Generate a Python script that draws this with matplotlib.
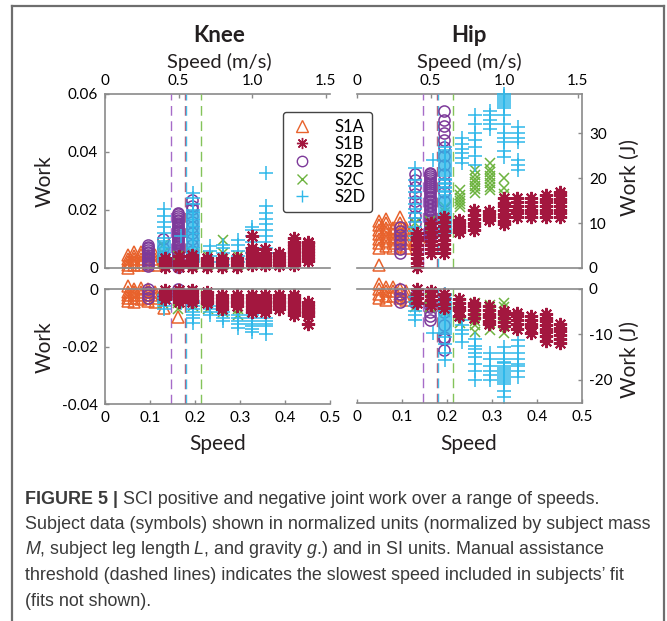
import matplotlib
matplotlib.use("Agg")
import matplotlib.pyplot as plt
from matplotlib.lines import Line2D
from matplotlib.text import Annotation

plt.rcParams["font.family"] = ["Lato", "DejaVu Sans"]
plt.rcParams["mathtext.fontset"] = "custom"
plt.rcParams["mathtext.rm"] = "Liberation Sans"
plt.rcParams["mathtext.it"] = "Liberation Sans:italic"

W, H = 667, 621
SPEED_SCALE = 3.06          # normalized speed -> m/s

# ── Data (normalized speed, per-speed trial values) ──────────────────────
S1A_SPEED = [0.05, 0.065, 0.08, 0.095, 0.11, 0.13, 0.162]
S1A_KNEE_POS = [[0.0, 0.001, 0.002, 0.003, 0.0045], [0.001, 0.002, 0.003, 0.004, 0.0055],
                [0.001, 0.002, 0.003, 0.0045, 0.0055], [0.001, 0.002, 0.003, 0.004],
                [0.001, 0.002, 0.003, 0.0045], [0.002], [0.002]]
S1A_KNEE_NEG = [[0.001, -0.001, -0.002, -0.003, -0.004], [0.0, -0.001, -0.002, -0.003, -0.0045],
                [0.0005, -0.001, -0.002, -0.0035], [0.0, -0.001, -0.002, -0.003, -0.004],
                [-0.001, -0.002, -0.003, -0.0045], [-0.0066], [-0.0097]]
S1A_HIP_POS = [[0.7, 4.5, 5.5, 6.5, 7.5, 8.5, 9.5, 10.5], [5, 6, 7, 8, 9, 10, 11],
               [4.5, 5.5, 6.5, 7.5, 8.5, 9], [5, 6, 7, 8, 9, 10, 11.3],
               [4.5, 5.5, 6.5, 7.5, 8.5, 9], [6], [7]]
S1A_HIP_NEG = [[1.0, 0, -1, -2], [0.5, -0.5, -1.5, -2.4], [0.5, -0.5, -1.5],
               [0, -1, -2], [-0.5, -1.5, -2.5], [-1.5], [-2]]

S1B_SPEED = [0.133, 0.164, 0.193, 0.227, 0.26, 0.293, 0.327, 0.355, 0.387, 0.419, 0.451]
S1B_KNEE_POS = [[0.0005, 0.0015, 0.0025, 0.0035], [0.0005, 0.0015, 0.0025, 0.004],
                [0.0005, 0.0015, 0.0025, 0.0035, 0.0045], [0.0005, 0.0015, 0.0025, 0.0035],
                [0.0005, 0.0015, 0.0025, 0.0035], [0.0005, 0.0015, 0.0025, 0.0035],
                [0.001, 0.002, 0.003, 0.004, 0.005, 0.006, 0.007, 0.011],
                [0.001, 0.002, 0.003, 0.004, 0.005, 0.0065],
                [0.001, 0.002, 0.003, 0.004, 0.005],
                [0.001, 0.002, 0.003, 0.004, 0.005, 0.006, 0.007, 0.008, 0.009, 0.0105],
                [0.0025, 0.0035, 0.0045, 0.0055, 0.0065, 0.0075, 0.0085, 0.009]]
S1B_KNEE_NEG = [[-0.0005, -0.0015, -0.0025, -0.0035], [-0.0005, -0.0015, -0.0025, -0.0035, -0.0045],
                [-0.0005, -0.0015, -0.0025, -0.0035, -0.0045], [-0.001, -0.002, -0.003, -0.004, -0.005],
                [-0.002, -0.003, -0.004, -0.005, -0.006, -0.007], [-0.002, -0.003, -0.004, -0.005, -0.006],
                [-0.002, -0.003, -0.004, -0.005, -0.006, -0.007, -0.008],
                [-0.002, -0.003, -0.004, -0.005, -0.006, -0.007, -0.008],
                [-0.002, -0.003, -0.004, -0.005, -0.006, -0.007],
                [-0.002, -0.003, -0.004, -0.005, -0.006, -0.007, -0.008, -0.009],
                [-0.0045, -0.0055, -0.0065, -0.0075, -0.0085, -0.0095, -0.012]]
S1B_HIP_POS = [[0.2, 1.2, 2.2, 3.2, 4.2, 5.2, 6.2, 7.0, 7.8], [3.4, 4.3, 5.2, 6.1, 7.0, 7.9, 8.8, 10],
               [3.3, 4.3, 5.3, 6.3, 7.3, 8.3, 9.3, 10.3, 11.4], [7.9, 8.6, 9.3, 10, 10.6],
               [8.5, 9.3, 10.1, 10.9, 11.7, 12.9], [10.6, 11.3, 12, 12.6],
               [9.7, 10.5, 11.3, 12.1, 12.9, 13.7, 14.5, 15.6], [11.4, 12.2, 13, 13.8, 14.6, 15.6],
               [11.4, 12.2, 13, 13.8, 14.6, 15.6], [11.4, 12.2, 13, 13.8, 14.6, 15.4, 16.3],
               [11.4, 12.2, 13, 13.8, 14.6, 15.4, 16.2, 17]]
S1B_HIP_NEG = [[0, -1, -2, -3], [-0.5, -1.5, -2.5, -3.6], [-1.2, -2.2, -3.2, -4.2],
               [-2.3, -3.1, -3.9, -4.7, -5.9], [-3, -3.8, -4.6, -5.4, -6.4],
               [-3.8, -4.6, -5.4, -6.2, -7, -7.7], [-4.8, -5.6, -6.4, -7.2, -8.2],
               [-5.2, -6, -6.8, -7.6, -8.9], [-6, -6.8, -7.6, -8.4, -9.6],
               [-5.5, -6.3, -7.1, -7.9, -8.7, -9.5, -10.3, -11.4], [-7.7, -8.5, -9.3, -10.1, -10.9, -11.8]]

S2B_SPEED = [0.096, 0.129, 0.162, 0.194]
S2B_KNEE_POS = [[0.0008, 0.0014, 0.002, 0.0026, 0.0032, 0.0038, 0.0044, 0.005, 0.0056, 0.0062,
                 0.0068, 0.0074, 0.0078],
                [0.004, 0.007, 0.01],
                [0.0005, 0.0011, 0.0017, 0.0023, 0.0029, 0.0035, 0.0041, 0.0047, 0.0053, 0.0059,
                 0.0065, 0.0071, 0.0077, 0.0083, 0.0089, 0.0095, 0.0101, 0.0107, 0.0113, 0.0119,
                 0.0125, 0.0131, 0.0137, 0.0143, 0.0149, 0.0155, 0.0161, 0.0167, 0.0173, 0.0179,
                 0.0185, 0.019],
                [0.002, 0.004, 0.006, 0.008, 0.010, 0.012, 0.014, 0.016, 0.018, 0.0205, 0.0215, 0.0235]]
S2B_KNEE_NEG = [[0.0, -0.001, -0.002, -0.003], [-0.002, -0.003],
                [0.0, -0.001, -0.002, -0.003], [-0.001, -0.002, -0.003, -0.004]]
S2B_HIP_POS = [[3.3, 4.3, 5.3, 6.3, 7.3, 8.3, 9.2], [10, 11.5, 13.5, 15, 16.5, 18, 19.5, 21],
               [6.5, 6.9, 7.4, 7.8, 8.3, 8.7, 9.2, 9.6, 10.1, 10.5, 11, 11.4, 11.9, 12.3, 12.8,
                13.2, 13.7, 14.1, 14.6, 15, 15.5, 15.9, 16.4, 16.8, 17.3, 17.7, 18.2, 18.6, 19.1,
                19.5, 20, 20.4, 20.9, 21.2],
               [15, 17, 19, 21, 23, 25, 27, 28.5, 30, 31.5, 33, 35]]
S2B_HIP_NEG = [[0, -1, -2, -2.9], [-1.5, -3], [-3, -4, -5, -6, -6.8],
               [-2, -5, -8, -10.5, -11, -13.4]]

S2C_SPEED = [0.128, 0.162, 0.196, 0.229, 0.262, 0.296, 0.327]
S2C_KNEE_POS = [[0.002, 0.005, 0.008], [0.002, 0.004], [0.001, 0.003, 0.005], [0.001, 0.002, 0.004],
                [0.001, 0.003, 0.005, 0.0098], [0.001, 0.002, 0.004], [0.001, 0.003, 0.005]]
S2C_KNEE_NEG = [[-0.003, -0.005], [-0.004, -0.005, -0.007], [-0.004, -0.006], [-0.005, -0.007],
                [-0.005, -0.007, -0.008], [-0.005, -0.007, -0.009], [-0.004, -0.006, -0.008]]
S2C_HIP_POS = [[8, 10], [9, 10.5], [9.6, 10.5, 11.5, 12.5, 13.5],
               [13.5, 14.2, 14.9, 15.6, 16.3, 17.3], [16.7, 17.5, 18.3, 19.1, 19.9, 20.7, 21.8],
               [17.3, 18.1, 18.9, 19.7, 20.5, 21.3, 22.1, 23.3], [16.5, 17.8, 20]]
S2C_HIP_NEG = [[-2, -4], [-2, -4], [-3, -5], [-3, -4, -5, -6, -7.5],
               [-3, -4, -5, -6, -7, -8, -9.4], [-3.5, -4.5, -5.5, -6.5, -7.5, -9],
               [-3, -4, -5, -6, -7.5, -9.7]]

S2D_SPEED = [0.13, 0.169, 0.196, 0.233, 0.262, 0.296, 0.327, 0.358]
S2D_KNEE_POS = [[0.002, 0.0026, 0.0032, 0.0038, 0.0044, 0.005, 0.0056, 0.0062, 0.0068, 0.0074,
                 0.008, 0.0086, 0.0092, 0.0105, 0.012, 0.014, 0.016, 0.018, 0.0205],
                [0.011],
                [0.002, 0.0026, 0.0032, 0.0038, 0.0044, 0.005, 0.0056, 0.0062, 0.0068, 0.0074,
                 0.008, 0.0086, 0.0092, 0.0098, 0.0104, 0.011, 0.0116, 0.0122, 0.0128, 0.0134,
                 0.014, 0.0146, 0.0152, 0.0158, 0.0164, 0.017, 0.0176, 0.0182, 0.0188, 0.0194,
                 0.02, 0.022, 0.024, 0.026],
                [0.002, 0.004, 0.006, 0.0075], [0.001, 0.003, 0.005, 0.007, 0.008],
                [0.002, 0.004, 0.006, 0.008, 0.0097], [0.003, 0.005, 0.007, 0.009, 0.011, 0.013, 0.014],
                [0.005, 0.007, 0.009, 0.011, 0.013, 0.015, 0.017, 0.019, 0.0215, 0.0328]]
S2D_KNEE_NEG = [[-0.002, -0.003, -0.004, -0.005, -0.006, -0.007], [-0.005],
                [-0.004, -0.005, -0.006, -0.007, -0.008, -0.009, -0.010, -0.0118],
                [-0.006, -0.007, -0.008, -0.009], [-0.008, -0.009, -0.010, -0.011],
                [-0.009, -0.010, -0.011, -0.012, -0.0136],
                [-0.009, -0.010, -0.011, -0.012, -0.013, -0.014, -0.015],
                [-0.01, -0.011, -0.012, -0.013, -0.0155]]
S2D_HIP_POS = [[6.2, 7.2, 8.2, 9.2, 10.2, 11.2, 12.2, 13.2, 14.2, 15.5, 16.8, 18.2, 19.6, 22.3], [24],
               [7.8, 8.2, 8.7, 9.1, 9.6, 10, 10.5, 10.9, 11.4, 11.8, 12.3, 12.7, 13.2, 13.6, 14.1,
                14.5, 15, 15.4, 15.9, 16.3, 16.8, 17.2, 17.7, 18.1, 18.6, 19, 19.5, 19.9, 20.4,
                20.8, 21.3, 21.7, 22.2, 22.6, 23.1, 23.5, 24, 24.4, 24.9, 25.3, 25.8, 26.2, 27],
               [23.3, 24.5, 25.5, 26.5, 27.5, 29], [23, 25, 27, 28.5, 30, 32, 34],
               [31, 32, 33, 34, 35],
               [24.6, 26, 28, 29, 30, 32, 34, 35.5, 36, 36.4, 36.9, 37.3, 37.8, 38.2, 38.7],
               [21.8, 23, 24, 28, 29, 30, 31.3]]
S2D_HIP_NEG = [[-1.8, -2.8, -3.8, -4.8, -5.8, -6.8], [-9.7],
               [-1, -1.4, -1.9, -2.3, -2.8, -3.2, -3.7, -4.1, -4.6, -5, -5.5, -5.9, -6.4, -6.8,
                -7.3, -7.7, -8.2, -8.6, -9.1, -9.5, -10, -10.5, -12, -14, -15.6],
               [-6.8, -8, -9, -10, -11.6], [-11, -12.5, -13.2, -14, -15, -16.5, -18, -20],
               [-14, -15.5, -17, -18, -19, -20],
               [-12.7, -14, -15.5, -16, -16.4, -16.9, -17.3, -17.8, -18.2, -18.7, -19.1, -19.6,
                -20, -20.5, -21, -22.5, -23.7],
               [-11.2, -12.5, -14, -15.5, -16.5, -17, -18, -19.3]]

SUBJECTS = ["S1A", "S1B", "S2B", "S2C", "S2D"]
THRESH_SUBJ = ["S2B", "S1B", "S2D", "S2C"]
THRESH_SPEED = [0.147, 0.178, 0.181, 0.213]

COLORS = {"S1A": "#E8622C", "S1B": "#A3173F", "S2B": "#7D3A9A",
          "S2C": "#6DB33F", "S2D": "#2FB8EA"}
DASH_COLORS = {"S2B": "#A66BC8", "S1B": "#C4566F", "S2D": "#45BDE9", "S2C": "#84C35A"}
STYLES = {
    "S1A": dict(marker="^", mfc="none", mec=COLORS["S1A"], ms=8, mew=1.1),
    "S1B": dict(marker=(8, 2, 0), color=COLORS["S1B"], ms=9.5, mew=1.5),
    "S2B": dict(marker="o", mfc="none", mec=COLORS["S2B"], ms=8, mew=1.1),
    "S2C": dict(marker="x", color=COLORS["S2C"], ms=7.5, mew=1.1),
    "S2D": dict(marker="+", color=COLORS["S2D"], ms=10, mew=1.1),
}
LEGEND_STYLES = {
    "S1A": dict(marker="^", mfc="none", mec=COLORS["S1A"], ms=8, mew=1.0),
    "S1B": dict(marker=(8, 2, 0), color=COLORS["S1B"], ms=8, mew=1.0),
    "S2B": dict(marker="o", mfc="none", mec=COLORS["S2B"], ms=7.5, mew=1.0),
    "S2C": dict(marker="x", color=COLORS["S2C"], ms=7, mew=1.0),
    "S2D": dict(marker="+", color=COLORS["S2D"], ms=9, mew=1.0),
}
DRAW_ORDER = ["S1A", "S2B", "S2C", "S2D", "S1B"]
GRAY = "#8a8a8a"

PANELS = {
    "knee_pos": {"S1A": S1A_KNEE_POS, "S1B": S1B_KNEE_POS, "S2B": S2B_KNEE_POS,
                 "S2C": S2C_KNEE_POS, "S2D": S2D_KNEE_POS},
    "knee_neg": {"S1A": S1A_KNEE_NEG, "S1B": S1B_KNEE_NEG, "S2B": S2B_KNEE_NEG,
                 "S2C": S2C_KNEE_NEG, "S2D": S2D_KNEE_NEG},
    "hip_pos": {"S1A": S1A_HIP_POS, "S1B": S1B_HIP_POS, "S2B": S2B_HIP_POS,
                "S2C": S2C_HIP_POS, "S2D": S2D_HIP_POS},
    "hip_neg": {"S1A": S1A_HIP_NEG, "S1B": S1B_HIP_NEG, "S2B": S2B_HIP_NEG,
                "S2C": S2C_HIP_NEG, "S2D": S2D_HIP_NEG},
}
SPEEDS = {"S1A": S1A_SPEED, "S1B": S1B_SPEED, "S2B": S2B_SPEED,
          "S2C": S2C_SPEED, "S2D": S2D_SPEED}


def px_axes(fig, l, t, r, b):
    return fig.add_axes([l / W, 1 - b / H, (r - l) / W, (b - t) / H])


def draw_panel(ax, key):
    for s, sp in zip(THRESH_SUBJ, THRESH_SPEED):
        ax.axvline(sp, color=DASH_COLORS[s], lw=1.0, dashes=(7, 4), zorder=1)
    for subj in DRAW_ORDER:
        groups = PANELS[key][subj]
        xs = [sp for sp, g in zip(SPEEDS[subj], groups) for _ in g]
        ys = [v for g in groups for v in g]
        ax.plot(xs, ys, linestyle="none", zorder=2, clip_on=False, **STYLES[subj])
    ax.set_xlim(0, 0.5)
    for sp in ax.spines.values():
        sp.set_color(GRAY)
        sp.set_linewidth(1.2)
    ax.tick_params(direction="in", length=3, width=1, color=GRAY,
                   labelsize=11, pad=5)


def add_speed_top(ax):
    sec = ax.secondary_xaxis("top", functions=(lambda x: x * SPEED_SCALE,
                                               lambda x: x / SPEED_SCALE))
    sec.set_xticks([0, 0.5, 1.0, 1.5])
    sec.set_xticklabels(["0", "0.5", "1.0", "1.5"])
    sec.spines["top"].set_color(GRAY)
    sec.spines["top"].set_linewidth(1.2)
    sec.tick_params(direction="in", length=3, width=1, color=GRAY,
                    labelsize=11, pad=4)
    ax.spines["top"].set_visible(False)


fig = plt.figure(figsize=(W / 100, H / 100), dpi=100)

# outer frame
for xs, ys in [([12, 12], [6, H]), ([12, 664], [6, 6]), ([664, 664], [6, H])]:
    fig.add_artist(Line2D([x / W for x in xs], [1 - y / H for y in ys],
                          color="#6e6e6e", lw=1.6))

ax_kp = px_axes(fig, 105, 94, 330, 268)
ax_kn = px_axes(fig, 105, 289, 330, 404)
ax_hp = px_axes(fig, 357, 94, 582, 268)
ax_hn = px_axes(fig, 357, 289, 582, 403)

draw_panel(ax_kp, "knee_pos")
ax_kp.set_ylim(0, 0.06)
ax_kp.set_yticks([0, 0.02, 0.04, 0.06])
ax_kp.set_yticklabels(["0", "0.02", "0.04", "0.06"])
ax_kp.set_xticks([])
ax_kp.spines["right"].set_visible(False)
add_speed_top(ax_kp)

draw_panel(ax_kn, "knee_neg")
ax_kn.set_ylim(-0.04, 0)
ax_kn.set_yticks([-0.04, -0.02, 0])
ax_kn.set_yticklabels(["-0.04", "-0.02", "0"])
ax_kn.set_xticks([0, 0.1, 0.2, 0.3, 0.4, 0.5])
ax_kn.set_xticklabels(["0", "0.1", "0.2", "0.3", "0.4", "0.5"])
ax_kn.spines["right"].set_visible(False)

draw_panel(ax_hp, "hip_pos")
ax_hp.set_ylim(0, 38.7)
ax_hp.yaxis.tick_right()
ax_hp.set_yticks([0, 10, 20, 30])
ax_hp.set_yticklabels(["0", "10", "20", "30"])
ax_hp.set_xticks([])
ax_hp.spines["left"].set_visible(False)
add_speed_top(ax_hp)

draw_panel(ax_hn, "hip_neg")
ax_hn.set_ylim(-25.1, 0)
ax_hn.yaxis.tick_right()
ax_hn.set_yticks([-20, -10, 0])
ax_hn.set_yticklabels(["-20", "-10", "0"])
ax_hn.set_xticks([0, 0.1, 0.2, 0.3, 0.4, 0.5])
ax_hn.set_xticklabels(["0", "0.1", "0.2", "0.3", "0.4", "0.5"])
ax_hn.spines["left"].set_visible(False)


# labels
def ftext(x, y, s, **kw):
    fig.text(x / W, 1 - y / H, s, ha="center", va="center", color="#231f20", **kw)


ftext(219, 35, "Knee", fontsize=16, fontweight="bold")
ftext(469, 35, "Hip", fontsize=16, fontweight="bold")
ftext(219, 62, "Speed (m/s)", fontsize=14.5)
ftext(469, 62, "Speed (m/s)", fontsize=14.5)
ftext(218, 444, "Speed", fontsize=15)
ftext(469, 444, "Speed", fontsize=15)
ftext(45, 181, "Work", fontsize=15, rotation=90)
ftext(45, 347, "Work", fontsize=15, rotation=90)
ftext(630, 178, "Work (J)", fontsize=15, rotation=90)
ftext(630, 359, "Work (J)", fontsize=15, rotation=90)

handles = [Line2D([], [], linestyle="none", **LEGEND_STYLES[s]) for s in SUBJECTS]
fig.legend(handles, SUBJECTS, loc="upper left",
           bbox_to_anchor=(283 / W, 1 - 112 / H), borderaxespad=0,
           frameon=True, fancybox=True, edgecolor="#444444", framealpha=1,
           fontsize=12, handlelength=1.5, handletextpad=1.2, labelspacing=0.1,
           borderpad=0.4)

# caption
cap_kw = dict(fontsize=12.9, color="#3a3a3a", family="Liberation Sans", va="center")
x0 = 25 / W
bold = fig.text(x0, 1 - 499 / H, "FIGURE 5 |", fontweight="bold", **cap_kw)
fig.add_artist(Annotation(" SCI positive and negative joint work over a range of speeds.",
                          xy=(1, 0.5), xycoords=bold, ha="left", **cap_kw))
CAPTION = [
    "Subject data (symbols) shown in normalized units (normalized by subject mass",
    r"$M$, subject leg length $L$, and gravity $g$.) and in SI units. Manual assistance",
    "threshold (dashed lines) indicates the slowest speed included in subjects\u2019 fit",
    "(fits not shown).",
]
for i, line in enumerate(CAPTION):
    fig.text(x0, 1 - (524.5 + 25.5 * i) / H, line, **cap_kw)

fig.savefig("out.png", dpi=100)
